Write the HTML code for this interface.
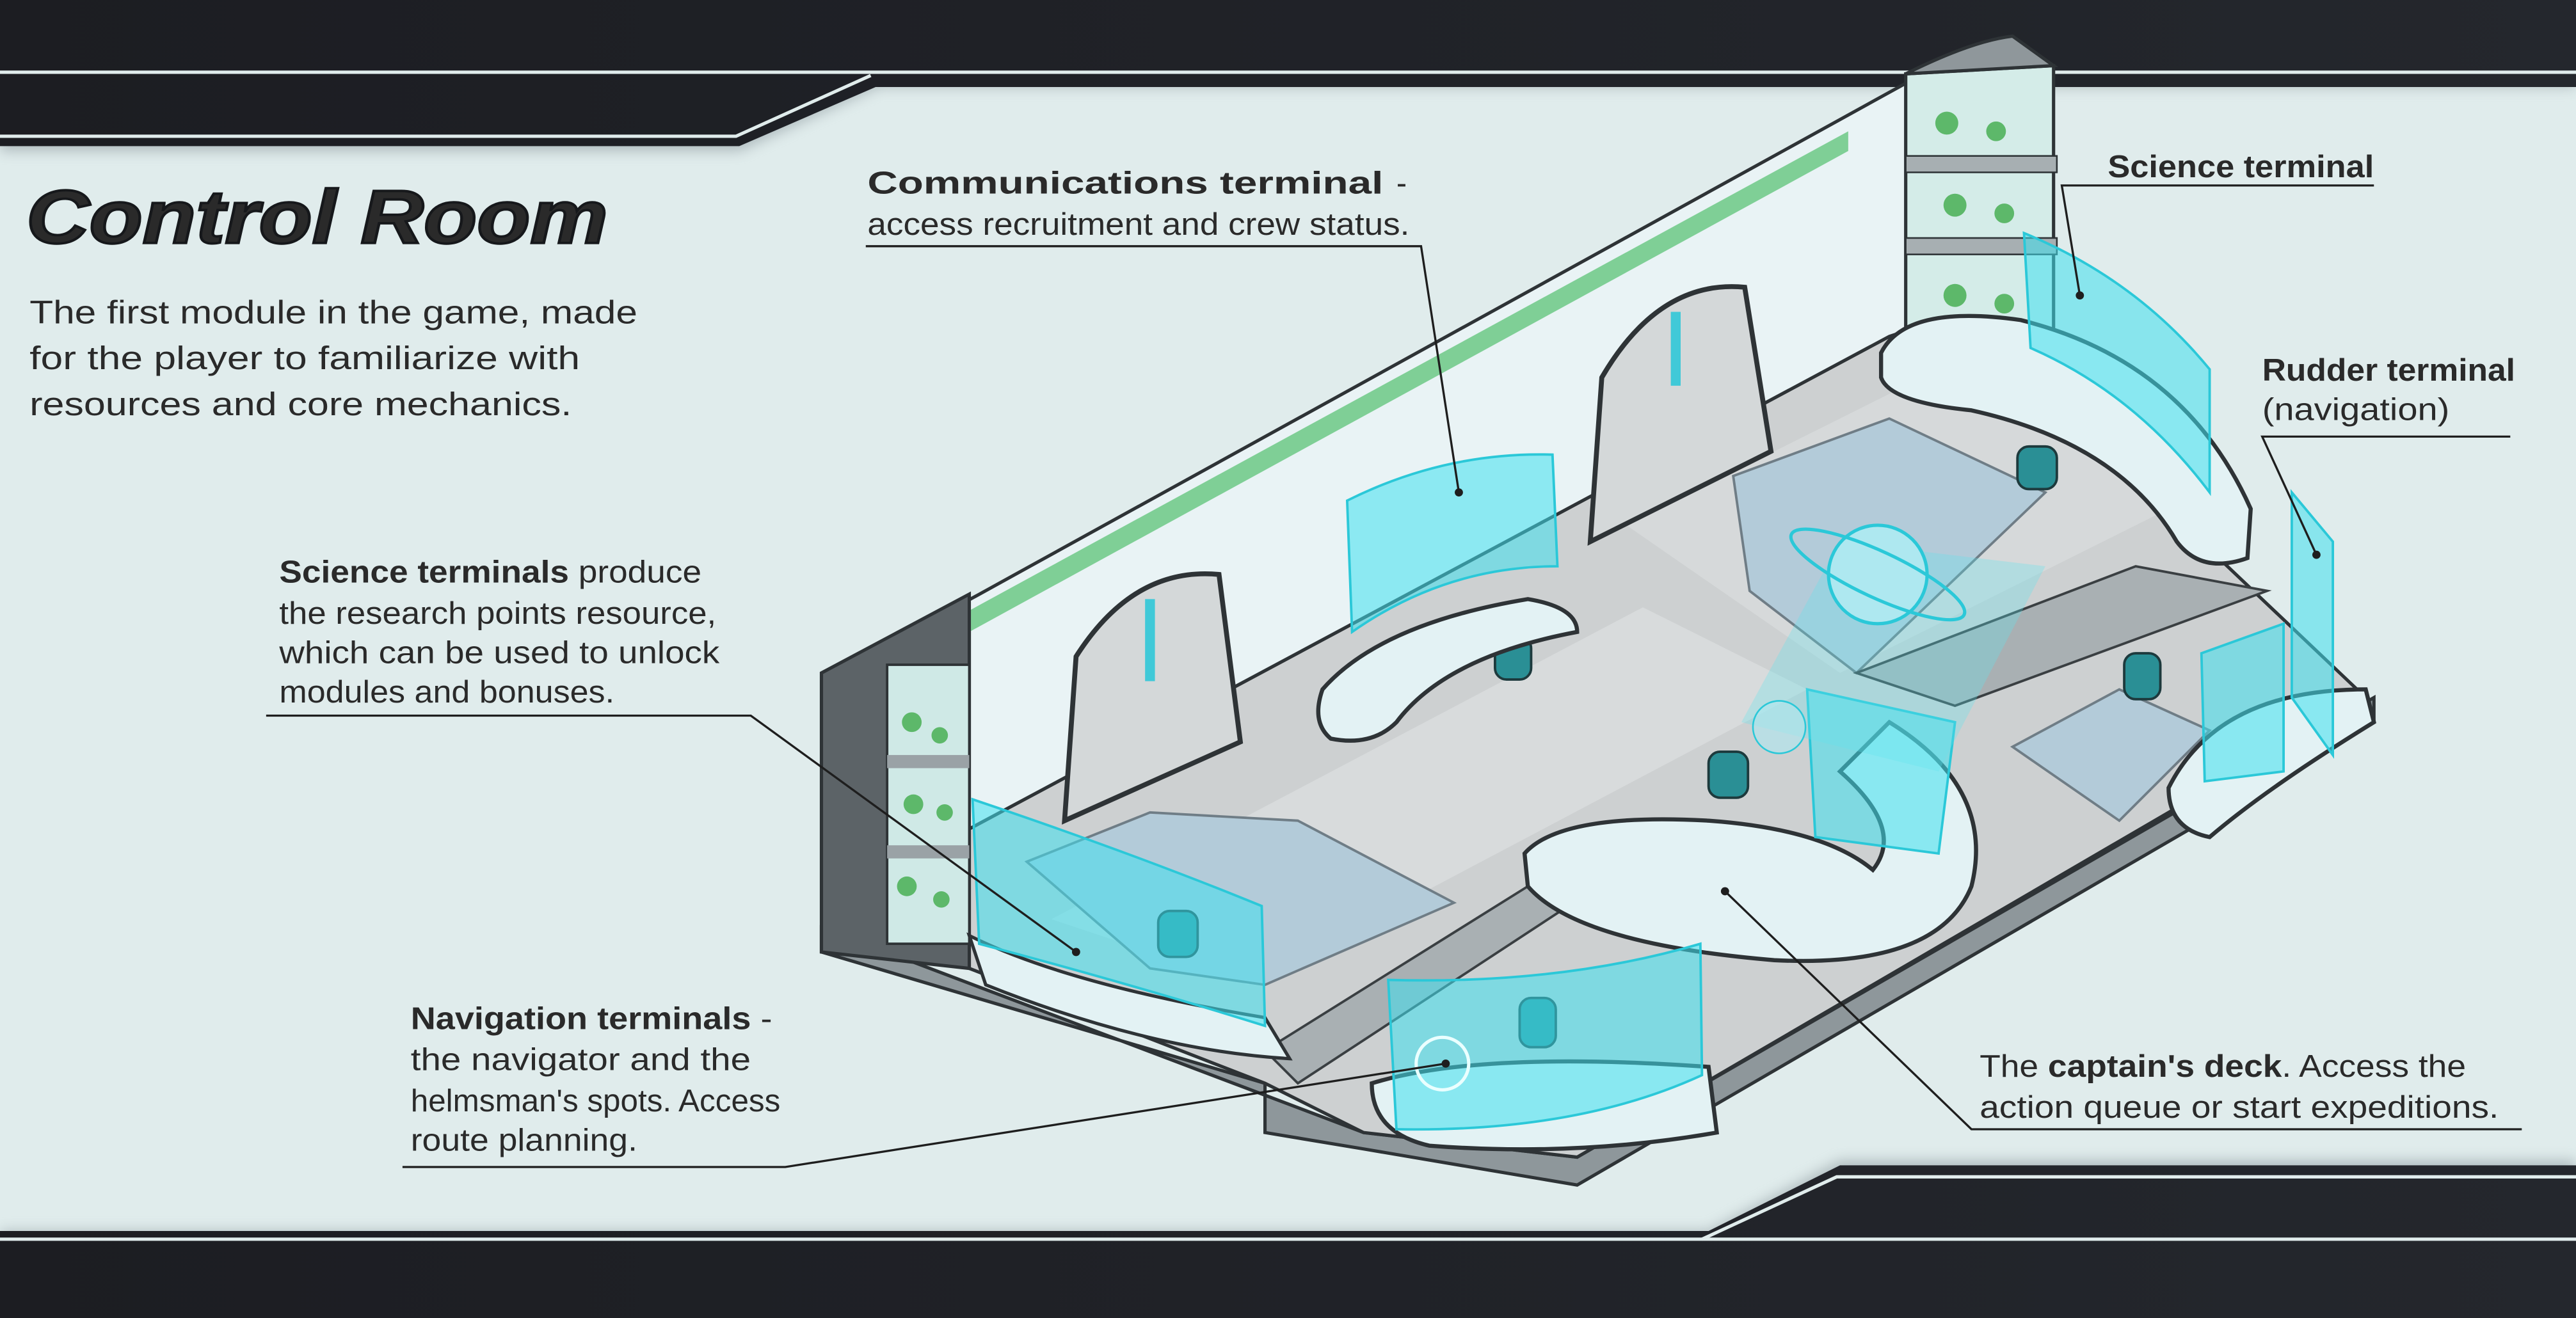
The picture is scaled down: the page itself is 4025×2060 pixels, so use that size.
<!DOCTYPE html>
<html><head><meta charset="utf-8"><style>
html,body{margin:0;padding:0;background:#e0ecec;}
svg{display:block}
text{font-family:"Liberation Sans","DejaVu Sans",sans-serif;fill:#2a2a2a;}
</style></head><body>
<svg width="4025" height="2060" viewBox="0 0 1568 803" preserveAspectRatio="none" xmlns="http://www.w3.org/2000/svg">
<defs>
<linearGradient id="dk" x1="0" x2="1"><stop offset="0" stop-color="#1c1d22"/><stop offset="1" stop-color="#24272d"/></linearGradient>
<filter id="sh" x="-5%" y="-50%" width="110%" height="200%"><feGaussianBlur stdDeviation="4"/></filter>
</defs>
<rect width="1568" height="803" fill="#e0ecec"/>
<!-- top band -->
<polygon points="0,0 1568,0 1568,53 535,53 450,92 0,92" fill="#7f8b92" opacity="0.5" filter="url(#sh)"/>
<polygon points="0,0 1568,0 1568,53 533,53 450,89 0,89" fill="url(#dk)"/>
<line x1="0" y1="44" x2="1568" y2="44" stroke="#e0ecec" stroke-width="2"/>
<polyline points="0,83 448,83 530,46" fill="none" stroke="#e0ecec" stroke-width="2"/>
<!-- bottom band -->
<polygon points="0,750 1040,750 1120,707 1568,707 1568,803 0,803" fill="#7f8b92" opacity="0.5" filter="url(#sh)"/>
<polygon points="0,750 1040,750 1120,710 1568,710 1568,803 0,803" fill="url(#dk)"/>
<polyline points="1036,755 1118,717 1568,717" fill="none" stroke="#e0ecec" stroke-width="2"/>
<line x1="0" y1="755" x2="1568" y2="755" stroke="#e0ecec" stroke-width="2"/>

<!-- title -->
<text x="16" y="148" font-size="46" font-weight="bold" font-style="italic" fill="#16181b" stroke="#16181b" stroke-width="1.5" textLength="354" lengthAdjust="spacingAndGlyphs">Control Room</text>
<g font-size="20" fill="#2a2a2a">
<text x="18" y="197" textLength="370" lengthAdjust="spacingAndGlyphs">The first module in the game, made</text>
<text x="18" y="225" textLength="335" lengthAdjust="spacingAndGlyphs">for the player to familiarize with</text>
<text x="18" y="253" textLength="330" lengthAdjust="spacingAndGlyphs">resources and core mechanics.</text>
</g>

<!-- ROOM -->
<polygon points="500,580 770,660 770,690 830,700 960,722 1445,440 1445,425 960,705 830,690 500,565" fill="#8e979b" stroke="#2e3336" stroke-width="2"/>
<polygon points="590,505 1150,205 1340,330 1440,425 960,705 830,690 770,660 590,590" fill="#cdd0d1" stroke="#2e3336" stroke-width="2"/>
<polygon points="640,560 1000,370 1100,420 760,600" fill="#d8dbdc"/>
<polygon points="990,320 1200,215 1340,300 1120,410" fill="#d6d9da"/>
<polygon points="625,525 700,495 790,500 885,550 770,600 700,590" fill="#b3cbd9" stroke="#6f7d86" stroke-width="1.5"/>
<polygon points="1055,290 1150,255 1245,300 1130,410 1065,360" fill="#b3cbd9" stroke="#6f7d86" stroke-width="1.5"/>
<polygon points="1225,455 1290,420 1345,445 1290,500" fill="#b3cbd9" stroke="#6f7d86" stroke-width="1.5"/>
<polygon points="770,640 930,540 950,555 790,660" fill="#a9b0b3" stroke="#3a3f42" stroke-width="1.5"/>
<polygon points="1130,410 1300,345 1380,360 1190,430" fill="#a9b0b3" stroke="#3a3f42" stroke-width="1.5"/>
<polygon points="540,393 1165,48 1165,200 1150,205 590,505 590,385" fill="#e9f3f5" stroke="#2e3336" stroke-width="2"/>
<polygon points="590,372 1125,80 1125,92 590,385" fill="#7fcf96"/>
<polygon points="500,410 590,362 590,590 500,580" fill="#5c6367" stroke="#2e3336" stroke-width="2"/>
<rect x="540" y="405" width="50" height="170" fill="#cfe9e6" stroke="#2e3336" stroke-width="1.5"/>
<g fill="#5db86a"><circle cx="555" cy="440" r="6"/><circle cx="572" cy="448" r="5"/><circle cx="556" cy="490" r="6"/><circle cx="575" cy="495" r="5"/><circle cx="552" cy="540" r="6"/><circle cx="573" cy="548" r="5"/></g>
<rect x="540" y="460" width="50" height="8" fill="#9aa2a6"/><rect x="540" y="515" width="50" height="8" fill="#9aa2a6"/>
<path d="M648,500 L655,400 Q690,345 742,350 L755,452 Z" fill="#d4d8d9" stroke="#2e3336" stroke-width="3"/>
<path d="M968,330 L975,230 Q1010,170 1062,175 L1078,275 Z" fill="#d4d8d9" stroke="#2e3336" stroke-width="3"/>
<rect x="697" y="365" width="6" height="50" fill="#40c9d8"/>
<rect x="1017" y="190" width="6" height="45" fill="#40c9d8"/>
<path d="M1160,45 L1250,40 L1250,200 Q1205,215 1160,200 Z" fill="#d4ece8" stroke="#2e3336" stroke-width="2"/>
<path d="M1160,45 Q1200,25 1225,22 L1250,40 Z" fill="#8f979b" stroke="#2e3336" stroke-width="2"/>
<g fill="#5db86a"><circle cx="1185" cy="75" r="7"/><circle cx="1215" cy="80" r="6"/><circle cx="1190" cy="125" r="7"/><circle cx="1220" cy="130" r="6"/><circle cx="1190" cy="180" r="7"/><circle cx="1220" cy="185" r="6"/></g>
<rect x="1160" y="95" width="92" height="10" fill="#a7afb2" stroke="#2e3336"/><rect x="1160" y="145" width="92" height="10" fill="#a7afb2" stroke="#2e3336"/>
<path d="M1145,215 Q1160,185 1230,195 Q1330,220 1370,310 L1368,340 Q1340,350 1325,330 Q1290,270 1200,250 Q1150,245 1145,230 Z" fill="#e3f2f4" stroke="#2e3336" stroke-width="2.5"/>
<g fill="#2a8f95" stroke="#1d3a3d" stroke-width="1.5">
<rect x="1228" y="272" width="24" height="26" rx="7"/>
<rect x="910" y="388" width="22" height="26" rx="7"/>
<rect x="1040" y="458" width="24" height="28" rx="7"/>
<rect x="1293" y="398" width="22" height="28" rx="7"/>
<rect x="925" y="608" width="22" height="30" rx="7"/>
<rect x="705" y="555" width="24" height="28" rx="7"/>
</g>
<path d="M805,420 Q840,380 930,365 Q960,370 960,385 Q880,400 850,440 Q835,455 810,450 Q798,440 805,420 Z" fill="#e3f2f4" stroke="#2e3336" stroke-width="2.5"/>
<path d="M928,520 Q950,495 1040,500 Q1110,505 1140,530 Q1160,505 1120,470 L1150,440 Q1215,480 1200,540 Q1180,590 1080,585 Q960,575 930,540 Z" fill="#e3f2f4" stroke="#2e3336" stroke-width="2.5"/>
<path d="M835,660 Q900,640 1040,650 L1045,690 Q960,705 870,698 Q835,690 835,660 Z" fill="#e3f2f4" stroke="#2e3336" stroke-width="2.5"/>
<path d="M1320,480 Q1350,420 1440,420 L1445,440 Q1380,480 1345,510 Q1320,505 1320,480 Z" fill="#e3f2f4" stroke="#2e3336" stroke-width="2.5"/>
<path d="M590,570 Q650,600 770,620 L785,645 Q700,640 600,600 Z" fill="#e3f2f4" stroke="#2e3336" stroke-width="2"/>
<g fill="#3fe0ee" fill-opacity="0.55" stroke="#2bc8d8" stroke-width="1.5">
<path d="M820,305 Q880,275 945,277 L948,345 Q880,345 823,385 Z"/>
<path d="M592,487 Q690,520 768,552 L770,625 Q690,600 596,575 Z"/>
<path d="M845,597 Q950,600 1035,575 L1036,655 Q960,690 850,688 Z"/>
<path d="M1232,142 Q1300,170 1345,225 L1345,300 Q1300,240 1236,212 Z"/>
<path d="M1395,300 L1420,330 L1420,460 L1395,425 Z"/>
<path d="M1340,398 L1390,380 L1390,470 L1342,476 Z"/>
<path d="M1100,420 L1190,440 L1180,520 L1105,510 Z"/>
</g>
<polygon points="1120,330 1245,345 1180,470 1060,440" fill="#5fe6f0" opacity="0.3"/>
<circle cx="1143" cy="350" r="30" fill="#aee8f0" stroke="#2bc8d8" stroke-width="2"/>
<ellipse cx="1143" cy="350" rx="58" ry="14" transform="rotate(25 1143 350)" fill="none" stroke="#2bc8d8" stroke-width="2"/>
<circle cx="1083" cy="443" r="16" fill="#aee8f0" fill-opacity="0.6" stroke="#2bc8d8"/>
<circle cx="878" cy="648" r="16" fill="none" stroke="#eaffff" stroke-width="2"/>

<g stroke="#1e1e1e" stroke-width="1.3" fill="none">
<polyline points="527,150 865,150 888,300"/>
<polyline points="1445,113 1255,113 1266,180"/>
<polyline points="1528,266 1377,266 1410,338"/>
<polyline points="162,436 457,436 655,580"/>
<polyline points="245,711 478,711 880,648"/>
<polyline points="1535,688 1200,688 1050,543"/>
</g>
<g fill="#1e1e1e"><circle cx="888" cy="300" r="2.5"/><circle cx="1266" cy="180" r="2.5"/><circle cx="1410" cy="338" r="2.5"/><circle cx="655" cy="580" r="2.5"/><circle cx="880" cy="648" r="2.5"/><circle cx="1050" cy="543" r="2.5"/></g>

<g font-size="19">
<text x="528" y="118" font-weight="bold" textLength="314" lengthAdjust="spacingAndGlyphs">Communications terminal</text>
<text x="850" y="118">-</text>
<text x="528" y="143" textLength="330" lengthAdjust="spacingAndGlyphs">access recruitment and crew status.</text>
<text x="1283" y="108" font-weight="bold" textLength="162" lengthAdjust="spacingAndGlyphs">Science terminal</text>
<text x="1377" y="232" font-weight="bold" textLength="154" lengthAdjust="spacingAndGlyphs">Rudder terminal</text>
<text x="1377" y="256" textLength="114" lengthAdjust="spacingAndGlyphs">(navigation)</text>
<text x="170" y="355" textLength="257" lengthAdjust="spacingAndGlyphs"><tspan font-weight="bold">Science terminals</tspan> produce</text>
<text x="170" y="380" textLength="266" lengthAdjust="spacingAndGlyphs">the research points resource,</text>
<text x="170" y="404" textLength="268" lengthAdjust="spacingAndGlyphs">which can be used to unlock</text>
<text x="170" y="428" textLength="204" lengthAdjust="spacingAndGlyphs">modules and bonuses.</text>
<text x="250" y="627" textLength="220" lengthAdjust="spacingAndGlyphs"><tspan font-weight="bold">Navigation terminals</tspan> -</text>
<text x="250" y="652" textLength="207" lengthAdjust="spacingAndGlyphs">the navigator and the</text>
<text x="250" y="677" textLength="225" lengthAdjust="spacingAndGlyphs">helmsman's spots. Access</text>
<text x="250" y="701" textLength="138" lengthAdjust="spacingAndGlyphs">route planning.</text>
<text x="1205" y="656" textLength="296" lengthAdjust="spacingAndGlyphs">The <tspan font-weight="bold">captain's deck</tspan>. Access the</text>
<text x="1205" y="681" textLength="316" lengthAdjust="spacingAndGlyphs">action queue or start expeditions.</text>
</g>
</svg>
</body></html>
